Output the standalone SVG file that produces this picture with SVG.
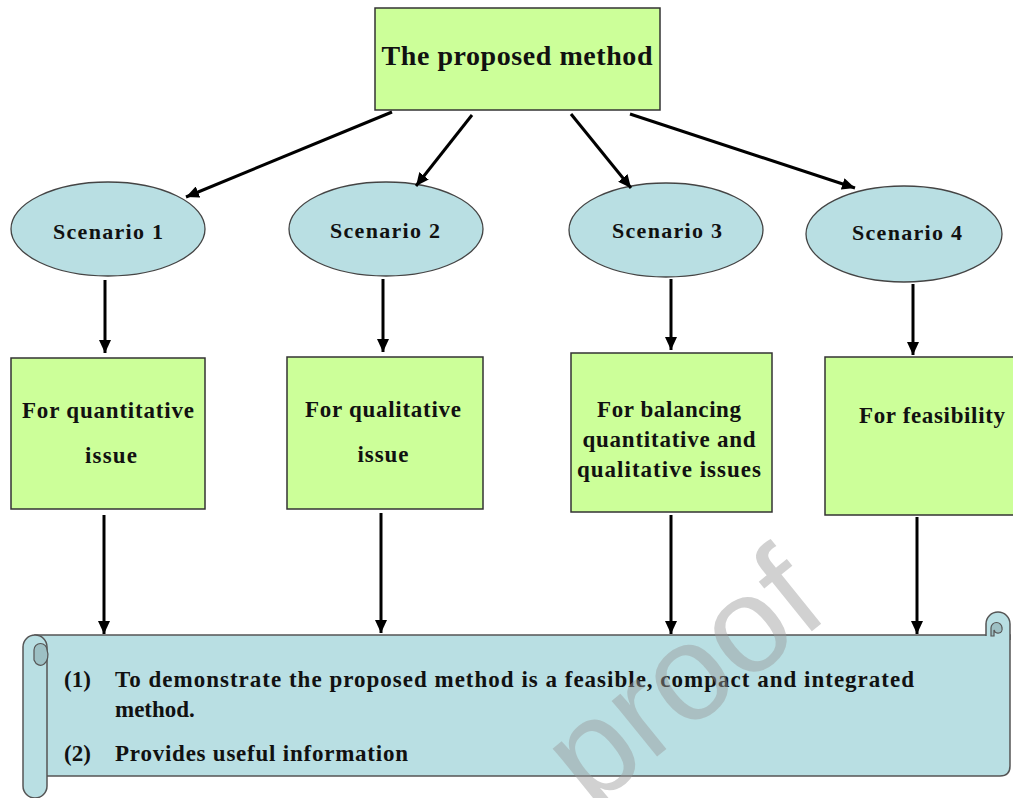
<svg xmlns="http://www.w3.org/2000/svg" width="1013" height="798" viewBox="0 0 1013 798">
<style>
.box{fill:#ccff99;stroke:#333;stroke-width:1.5}
.ell{fill:#b9dfe3;stroke:#444;stroke-width:1.3}
.t{font-family:"Liberation Serif","Times New Roman",serif;font-weight:bold;fill:#111}
.c{text-anchor:middle}
.arr{stroke:#000;stroke-width:3;fill:none;marker-end:url(#ah)}
.scroll{fill:#b9dfe3;stroke:#555;stroke-width:1.5}
.curl{fill:#9dc0c4;stroke:#555;stroke-width:1.2}
</style>
<defs>
<marker id="ah" markerUnits="userSpaceOnUse" markerWidth="14" markerHeight="12" refX="13" refY="6" orient="auto">
<path d="M0,0 L13,6 L0,12 Z" fill="#000"/>
</marker>
</defs>
<rect width="1013" height="798" fill="#fff"/>

<g id="top">
<rect class="box" x="375" y="8" width="285" height="102"/>
<text class="t c" x="517" y="65" font-size="28" textLength="271" lengthAdjust="spacing">The proposed method</text>
</g>

<g id="scenario1"><ellipse class="ell" cx="108" cy="229" rx="97" ry="47"/><text class="t c" x="108" y="239" font-size="22" textLength="110">Scenario 1</text></g>
<g id="scenario2"><ellipse class="ell" cx="386" cy="229" rx="97" ry="47"/><text class="t c" x="385" y="238" font-size="22" textLength="110">Scenario 2</text></g>
<g id="scenario3"><ellipse class="ell" cx="666" cy="230" rx="97" ry="47"/><text class="t c" x="667" y="238" font-size="22" textLength="110">Scenario 3</text></g>
<g id="scenario4"><ellipse class="ell" cx="904" cy="234" rx="98" ry="48"/><text class="t c" x="907" y="240" font-size="22" textLength="110">Scenario 4</text></g>

<g id="box1"><rect class="box" x="11" y="358" width="194" height="151"/>
<text class="t c" x="108" y="418" font-size="23" textLength="172">For quantitative</text>
<text class="t c" x="111" y="463" font-size="23" textLength="52">issue</text></g>
<g id="box2"><rect class="box" x="287" y="357" width="196" height="152"/>
<text class="t c" x="383" y="417" font-size="23" textLength="156">For qualitative</text>
<text class="t c" x="383" y="462" font-size="23" textLength="51">issue</text></g>
<g id="box3"><rect class="box" x="571" y="353" width="201" height="159"/>
<text class="t c" x="669" y="417" font-size="23" textLength="144">For balancing</text>
<text class="t c" x="669" y="447" font-size="23" textLength="173">quantitative and</text>
<text class="t c" x="669" y="477" font-size="23" textLength="184">qualitative issues</text></g>
<g id="box4"><rect class="box" x="825" y="357" width="200" height="158"/>
<text class="t c" x="932" y="423" font-size="23" textLength="146">For feasibility</text></g>

<g id="connectors">
<line class="arr" x1="392" y1="112" x2="186" y2="197"/>
<line class="arr" x1="472" y1="115" x2="416" y2="186"/>
<line class="arr" x1="571" y1="114" x2="631" y2="188"/>
<line class="arr" x1="630" y1="114" x2="855" y2="188"/>
<line class="arr" x1="105" y1="280" x2="105" y2="353"/>
<line class="arr" x1="383" y1="279" x2="383" y2="352"/>
<line class="arr" x1="671" y1="279" x2="671" y2="350"/>
<line class="arr" x1="913" y1="284" x2="913" y2="355"/>
<line class="arr" x1="104" y1="515" x2="104" y2="634"/>
<line class="arr" x1="381" y1="513" x2="381" y2="633"/>
<line class="arr" x1="671" y1="515" x2="671" y2="634"/>
<line class="arr" x1="917" y1="517" x2="917" y2="634"/>
</g>

<g id="scroll">
<path class="scroll" d="M35 635 H1010 V766 Q1010 776 1000 776 H40 Z"/>
<path class="scroll" d="M986 636 V624 A12 12 0 0 1 1010 624 V640"/>
<path class="curl" d="M991 636 V628 A5.5 5.5 0 0 1 1002 628 A4 4 0 0 1 994 630 V636 Z"/>
<path class="scroll" d="M23 647 A12 12 0 0 1 47 647 V786 A12 12 0 0 1 23 786 Z"/>
<path class="curl" d="M34 660 V650 A6.5 6.5 0 0 1 47 650 A6.5 9 0 0 1 34 660 Z"/>
<text class="t" x="64" y="687" font-size="23">(1)</text>
<text class="t" x="115" y="687" font-size="23" textLength="799" lengthAdjust="spacing">To demonstrate the proposed method is a feasible, compact and integrated</text>
<text class="t" x="115" y="717" font-size="23">method.</text>
<text class="t" x="64" y="761" font-size="23">(2)</text>
<text class="t" x="115" y="761" font-size="23" textLength="293" lengthAdjust="spacing">Provides useful information</text>
</g>

<text transform="translate(591 810) rotate(-39)" x="0" y="0" font-family="Liberation Sans, Arial, sans-serif" font-size="136" fill="#999" fill-opacity="0.45">proof</text>
</svg>
